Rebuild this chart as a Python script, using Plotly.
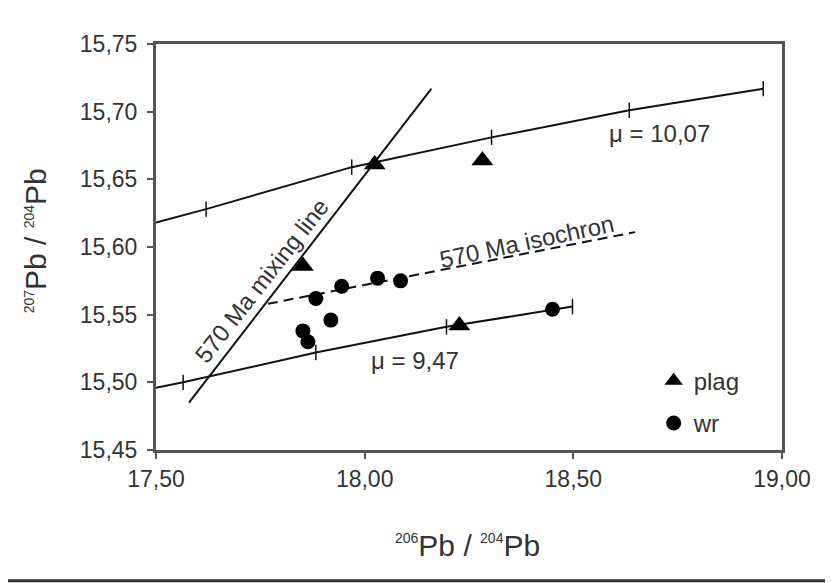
import plotly.graph_objects as go

# ---- data ----
plag_x = [18.024, 18.282, 17.852, 18.227]
plag_y = [15.661, 15.664, 15.586, 15.542]

wr_x = [17.883, 17.945, 18.031, 18.086, 17.919, 17.852, 17.864, 18.450]
wr_y = [15.562, 15.571, 15.577, 15.575, 15.546, 15.538, 15.530, 15.554]

mu_high_x = [17.50, 17.620, 17.969, 18.304, 18.634, 18.955]
mu_high_y = [15.618, 15.628, 15.659, 15.681, 15.701, 15.717]
mu_high_tick_idx = [1, 2, 3, 4, 5]

mu_low_x = [17.50, 17.565, 17.883, 18.196, 18.498]
mu_low_y = [15.496, 15.500, 15.522, 15.541, 15.556]
mu_low_tick_idx = [1, 2, 3, 4]

mixing_x = [17.579, 18.160]
mixing_y = [15.485, 15.717]

isochron_x = [17.768, 18.648]
isochron_y = [15.558, 15.611]

x_ticks = [17.50, 18.00, 18.50, 19.00]
y_ticks = [15.45, 15.50, 15.55, 15.60, 15.65, 15.70, 15.75]

FONT = "Liberation Sans, Arial, sans-serif"
TXT = "#333333"

fig = go.Figure()

# curves
for cx, cy, idx in [(mu_high_x, mu_high_y, mu_high_tick_idx), (mu_low_x, mu_low_y, mu_low_tick_idx)]:
    fig.add_trace(go.Scatter(x=cx, y=cy, mode="lines", line=dict(color="#111", width=2),
                             showlegend=False, hoverinfo="skip"))
    fig.add_trace(go.Scatter(x=[cx[i] for i in idx], y=[cy[i] for i in idx], mode="markers",
                             marker=dict(symbol="line-ns-open", size=11, color="#111",
                                         line=dict(color="#111", width=1.5)),
                             showlegend=False, hoverinfo="skip"))

fig.add_trace(go.Scatter(x=mixing_x, y=mixing_y, mode="lines", line=dict(color="#111", width=2),
                         showlegend=False, hoverinfo="skip"))
fig.add_trace(go.Scatter(x=isochron_x, y=isochron_y, mode="lines",
                         line=dict(color="#111", width=2, dash="10px,6px"),
                         showlegend=False, hoverinfo="skip"))

fig.add_trace(go.Scatter(x=plag_x, y=plag_y, mode="markers", name="plag", legendgroup="a",
                         marker=dict(symbol="triangle-up", size=19, color="#000")))
fig.add_trace(go.Scatter(x=wr_x, y=wr_y, mode="markers", name="wr", legendgroup="b",
                         marker=dict(symbol="circle", size=15, color="#000")))

annots = [
    dict(x=18.706, y=15.684, text="μ = 10,07", textangle=0),
    dict(x=18.120, y=15.516, text="μ = 9,47", textangle=0),
    dict(x=18.388, y=15.604, text="570 Ma isochron", textangle=-12),
    dict(x=17.754, y=15.575, text="570 Ma mixing line", textangle=-52),
]
for a in annots:
    fig.add_annotation(x=a["x"], y=a["y"], text=a["text"], textangle=a["textangle"],
                       showarrow=False, xref="x", yref="y", xanchor="center", yanchor="middle",
                       font=dict(family=FONT, size=24, color=TXT))

# axis titles
sup = '<sup><span style="font-size:14px">{}</span></sup>'
fig.add_annotation(xref="paper", yref="paper", x=0.497, y=-0.236, xanchor="center", yanchor="middle",
                   text=sup.format("206") + "Pb / " + sup.format("204") + "Pb",
                   showarrow=False, font=dict(family=FONT, size=30, color=TXT))
fig.add_annotation(xref="paper", yref="paper", x=-0.192, y=0.516, xanchor="center", yanchor="middle",
                   textangle=-90,
                   text=sup.format("207") + "Pb / " + sup.format("204") + "Pb",
                   showarrow=False, font=dict(family=FONT, size=30, color=TXT))

axis_common = dict(showgrid=False, zeroline=False, showline=True, linecolor="#555", linewidth=3,
                   mirror=True, ticks="outside", ticklen=6, tickwidth=2, tickcolor="#555",
                   tickformat=".2f", tickfont=dict(family=FONT, size=23, color=TXT))

fig.update_xaxes(range=[17.5, 19.0], tickvals=x_ticks, ticklabelstandoff=0, **axis_common)
fig.update_yaxes(range=[15.45, 15.75], tickvals=y_ticks, ticklabelstandoff=5, **axis_common)

fig.add_shape(type="line", xref="paper", yref="paper", x0=-0.26, x1=1.09, y0=-0.322, y1=-0.322,
              line=dict(color="#333", width=3))

fig.update_layout(
    width=825, height=575,
    margin=dict(l=148, r=51, t=36, b=133),
    paper_bgcolor="white", plot_bgcolor="white",
    separators=", ",
    font=dict(family=FONT, color=TXT),
    legend=dict(x=0.795, y=0.225, xanchor="left", yanchor="top", bgcolor="rgba(0,0,0,0)",
                font=dict(family=FONT, size=24, color=TXT), tracegroupgap=8),
)

fig.write_html("out.html")
